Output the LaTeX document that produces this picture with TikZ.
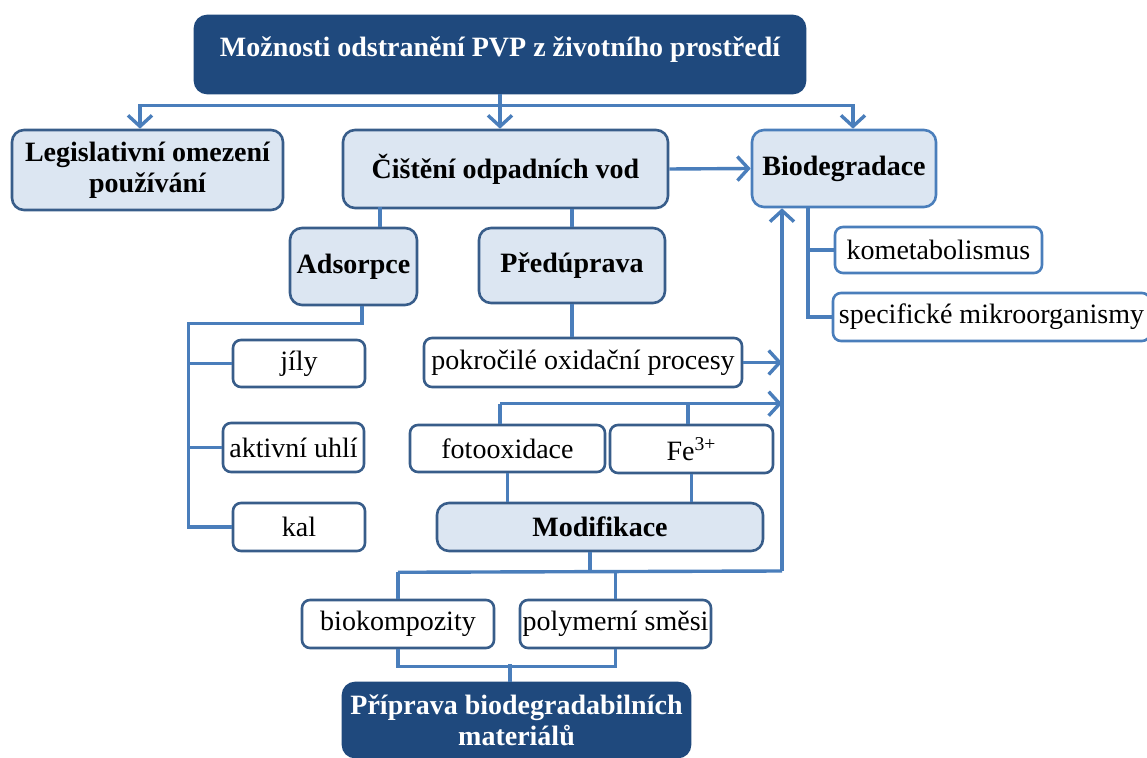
\documentclass[tikz,border=0pt]{standalone}
\usepackage{fontspec}
\setmainfont{Liberation Serif}
\usetikzlibrary{arrows.meta,calc}
\definecolor{darkfill}{HTML}{1F497D}
\definecolor{lightfill}{HTML}{DCE6F2}
\definecolor{darkline}{HTML}{385D8A}
\definecolor{linkblue}{HTML}{4A7EBB}
\newcommand{\boxfont}{\fontsize{14}{15.5}\selectfont}
\tikzset{
  sz/.style 2 args={minimum width=#1*0.5pt, minimum height=#2*0.5pt},
  topbox/.style={rounded corners=6pt, fill=darkfill, draw=darkfill, line width=1.3pt,
    text=white, font=\boxfont\bfseries, align=center, inner sep=0pt},
  headbox/.style={rounded corners=6pt, fill=lightfill, draw=darkline, line width=1.3pt,
    font=\boxfont\bfseries, align=center, inner sep=0pt},
  leafbox/.style={rounded corners=4pt, fill=white, draw=darkline, line width=1.3pt,
    font=\boxfont, align=center, inner sep=0pt},
  link/.style={draw=linkblue, line width=1.7pt},
  arr/.style={link, -{Straight Barb[length=5.5pt,width=12pt]}},
}
\begin{document}
\begin{tikzpicture}[x=0.5pt, y=-0.5pt, font=\boxfont]
  \path[use as bounding box, clip] (0,0) rectangle (1147,758);
  \draw
    (500,54.5) node[topbox, sz={610}{77}, text height=20.5pt, text depth=18pt] (top)
      {Možnosti odstranění PVP z životního prostředí}
    (147.5,170) node[headbox, sz={271}{80}] (leg){Legislativní omezení\\používání}
    (505.5,169) node[headbox, sz={325}{78}] (cist){Čištění odpadních vod}
    (844,168.5) node[headbox, draw=linkblue, sz={184}{77}] (bio){Biodegradace}
    (353.5,266.5) node[headbox, sz={127}{77}] (ads){Adsorpce}
    (572,265.5) node[headbox, sz={186}{75}] (pred){Předúprava}
    (299,363.5) node[leafbox, sz={132}{47}] (jily){jíly}
    (293.5,447.5) node[leafbox, sz={141}{49}] (uhli){aktivní uhlí}
    (299,527) node[leafbox, sz={132}{48}] (kal){kal}
    (583,362.5) node[leafbox, sz={318}{49}] (aop){pokročilé oxidační procesy}
    (507.5,448.5) node[leafbox, sz={195}{47}] (foto){fotooxidace}
    (691.5,449) node[leafbox, sz={163}{48}] (fe){Fe\textsuperscript{3+}}
    (600,527) node[headbox, sz={326}{48}] (mod){Modifikace}
    (938.5,250) node[leafbox, draw=linkblue, sz={207}{46}] (kom){kometabolismus}
    (991.5,317) node[leafbox, draw=linkblue, sz={317}{48}] (spec){specifické mikroorganismy}
    (398,624) node[leafbox, sz={192}{48}] (biok){biokompozity}
    (615.5,624) node[leafbox, sz={191}{48}] (poly){polymerní směsi}
    (516.5,720) node[topbox, sz={347}{74}] (prip){Příprava biodegradabilních\\materiálů};
  \coordinate (vb) at (782,571);
  \begin{scope}[link]
    % from the top box
    \draw (top.south) -- ++(0,11) coordinate (tj);
    \draw[arr] (tj) -| ($(leg.north)+(-7.5,0)$);
    \draw[arr] (tj) -| ($(bio.north)+(9,0)$);
    \draw[arr] (tj) -- (tj |- cist.north);
    \draw[arr] (cist.east) -- (bio.west);
    % waste water
    \draw ($(ads.north)+(26.5,0)$) -- ++(0,-20);
    \draw (pred.north) -- (pred.north |- cist.south);
    \draw ($(ads.south)+(8.5,0)$) -- ++(0,17) -| ($(kal.west)+(-43,0)$) -- (kal.west);
    \draw (jily.west) -- ++(-43,0);
    \draw (uhli.west) -- ++(-33,0);
    \draw (pred.south) -- (pred.south |- aop.north);
    \draw[arr] (aop.east) -- (aop.east -| vb);
    % modification
    \draw ($(foto.north)+(-7.5,0)$) -- ++(0,-20) coordinate (fj);
    \draw[arr] (fj) -- (fj -| vb);
    \draw ($(fe.north)+(-3.5,0)$) -- ++(0,-20);
    \draw (foto.south) -- (foto.south |- mod.north);
    \draw (fe.south) -- (fe.south |- mod.north);
    \draw ($(mod.south)+(-10,0)$) -- ++(0,20) coordinate (mj);
    \draw (biok.north |- mj) -- (vb);
    \draw[arr] (vb) -- (vb |- bio.south);
    \draw (biok.north) -- (biok.north |- mj);
    \draw (poly.north) -- (poly.north |- mj);
    \draw (biok.south) -- ++(0,17) -| (poly.south);
    \draw ($(prip.north)+(-6.5,0)$) -- ++(0,-18);
    % biodegradation
    \draw ($(bio.south)+(-36,0)$) |- (spec.west);
    \draw (kom.west) -- ++(-27,0);
  \end{scope}
\end{tikzpicture}
\end{document}
